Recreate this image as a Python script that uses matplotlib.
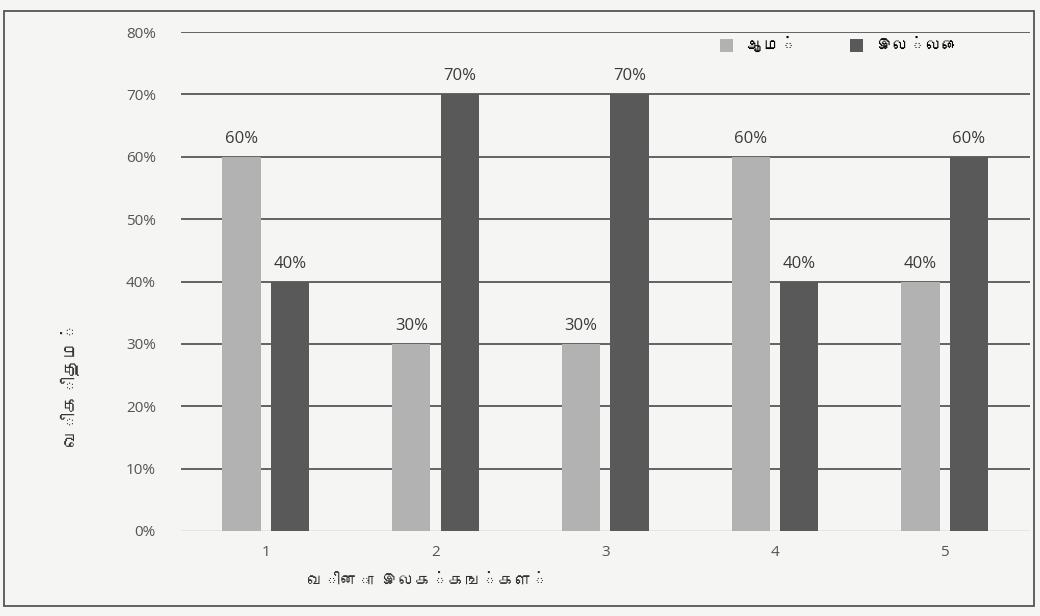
import matplotlib
matplotlib.use("Agg")
import matplotlib.pyplot as plt
from matplotlib import font_manager
from matplotlib.ft2font import FT2Font
from matplotlib.patches import Rectangle, Patch
import numpy as np

# data
questions = ["1", "2", "3", "4", "5"]
yes_vals = [0.60, 0.30, 0.30, 0.60, 0.40]
no_vals = [0.40, 0.70, 0.70, 0.40, 0.60]
labels = ["ஆம்", "இல்லை"]
xlabel = "வினா இலக்கங்கள்"
ylabel = "விகிதம்"


# look for an installed font that actually has Tamil glyphs
def find_tamil_font():
    for path in font_manager.findSystemFonts():
        try:
            if 0x0B86 in FT2Font(path).get_charmap():
                return font_manager.FontProperties(fname=path).get_name()
        except Exception:
            pass
    return None


tamil = find_tamil_font()
tamil_family = [tamil, "DejaVu Sans"] if tamil else ["DejaVu Sans"]

light = "#b2b2b2"
dark = "#595959"
bg = "#f5f5f3"

fig = plt.figure(figsize=(10.4, 6.16), dpi=100, facecolor=bg)
ax = fig.add_axes([0.174, 0.138, 0.816, 0.810], facecolor=bg)

x = np.arange(len(questions))
w = 0.226
b1 = ax.bar(x - 0.143, yes_vals, w, color=light, zorder=2)
b2 = ax.bar(x + 0.143, no_vals, w, color=dark, zorder=2)

for bars in (b1, b2):
    for r in bars:
        ax.text(r.get_x() + r.get_width() / 2, r.get_height() + 0.016,
                f"{r.get_height() * 100:.0f}%", ha="center", va="bottom",
                fontsize=12, color="#3a3a3a", family="Open Sans")

ax.set_ylim(0, 0.8)
ax.set_xlim(-0.5, len(questions) - 0.5)
yt = np.arange(0, 0.81, 0.1)
ax.set_yticks(yt)
ax.set_yticklabels([f"{v * 100:.0f}%" for v in yt], family="Open Sans")
ax.set_xticks(x)
ax.set_xticklabels(questions, family="Open Sans")
ax.tick_params(length=0, labelsize=11, colors="#555555")
ax.tick_params(axis="y", pad=18)
ax.tick_params(axis="x", pad=10)

for v in yt[1:]:
    ax.axhline(v, color="#4a4a4a", lw=1.2, zorder=1)
ax.axhline(0, color="#a8a8a8", lw=1.0, zorder=1)

for s in ax.spines.values():
    s.set_visible(False)

ax.set_xlabel(xlabel, fontsize=12, color="#333333", family=tamil_family)
ax.xaxis.set_label_coords(0.29, -0.085)
fig.text(0.067, 0.378, ylabel, rotation=90, ha="center", va="center",
         fontsize=13, color="#333333", family=tamil_family)

handles = [Patch(facecolor=light), Patch(facecolor=dark)]
fig.legend(handles, labels, loc="center left", bbox_to_anchor=(0.678, 0.927),
           ncol=2, frameon=False, handlelength=0.8, handleheight=0.8,
           handletextpad=0.8, columnspacing=3.2,
           prop={"family": tamil_family, "size": 12})

# outer border of the chart box
fig.patches.append(Rectangle((0.004, 0.016), 0.99, 0.966, transform=fig.transFigure,
                             fill=False, edgecolor="#555555", lw=1.3))

fig.savefig("out.png", dpi=100, facecolor=bg)
